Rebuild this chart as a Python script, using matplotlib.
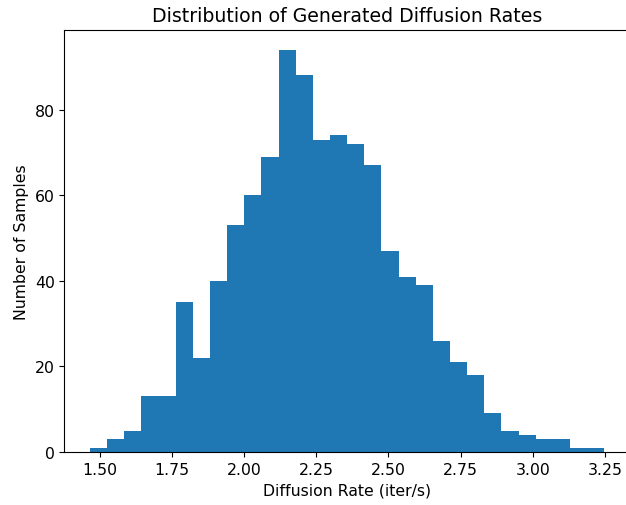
import matplotlib
matplotlib.use('Agg')
import matplotlib.pyplot as plt
import numpy as np

# histogram counts (30 bins)
counts = [1, 3, 5, 13, 13, 35, 22, 40, 53, 60, 69, 94, 88, 73, 74,
          72, 67, 47, 41, 39, 26, 21, 18, 9, 5, 4, 3, 3, 1, 1]
bin_lo = 1.467
bin_hi = 3.247

edges = np.linspace(bin_lo, bin_hi, len(counts) + 1)
centers = (edges[:-1] + edges[1:]) / 2

plt.rcParams['font.size'] = 11.3

fig = plt.figure(figsize=(6.26, 5.06), dpi=100)
ax = fig.add_axes([64.3 / 626, 53 / 506, (630 - 64.3) / 626, (453 - 30.7) / 506])
ax.hist(centers, bins=edges, weights=counts, color='#1f77b4')
ax.set_title('Distribution of Generated Diffusion Rates', fontsize=13.6)
ax.set_xlabel('Diffusion Rate (iter/s)')
ax.set_ylabel('Number of Samples')
ax.set_xticks([1.50, 1.75, 2.00, 2.25, 2.50, 2.75, 3.00, 3.25])

fig.savefig('out.png', dpi=100)
